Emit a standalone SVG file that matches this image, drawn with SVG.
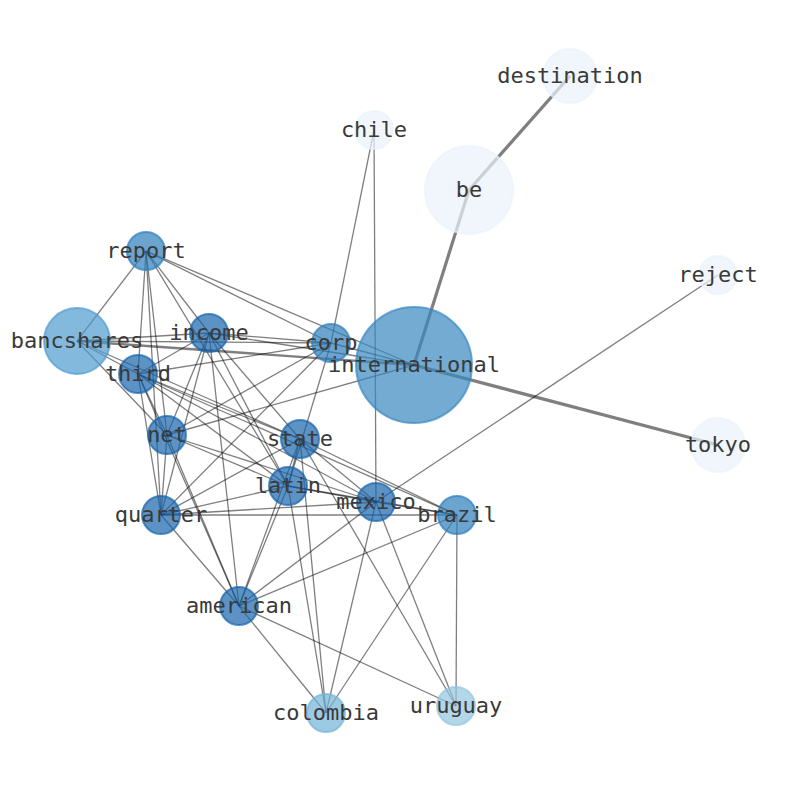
<svg xmlns="http://www.w3.org/2000/svg" width="794" height="790" viewBox="0 0 794 790">
<style>
.e{stroke:#000;stroke-opacity:0.5;stroke-width:1.3;fill:none}
.w2{stroke-width:2.4}
.w3{stroke-width:3.2}
.n circle{fill-opacity:0.7;stroke-opacity:0.7;stroke-width:2}
.n text{font-family:"DejaVu Sans Mono","Liberation Mono",monospace;font-size:22px;fill:#3a3a3a;text-anchor:middle}
.c0 circle{fill:#e9f2fb;stroke:#e9f2fb}
.c1 circle{fill:#1764ab;stroke:#1764ab}
.c2 circle{fill:#2e7ebc;stroke:#2e7ebc}
.c3 circle{fill:#3787c0;stroke:#3787c0}
.c4 circle{fill:#4e9bcf;stroke:#4e9bcf}
.c5 circle{fill:#72b4d7;stroke:#72b4d7}
.c6 circle{fill:#93c5e0;stroke:#93c5e0}
</style>
<rect width="794" height="790" fill="#fff"/>
<g id="edges">
<line class="e" x1="146" y1="251" x2="77" y2="341"/>
<line class="e" x1="146" y1="251" x2="138" y2="374"/>
<line class="e" x1="146" y1="251" x2="161" y2="515"/>
<line class="e" x1="146" y1="251" x2="167" y2="435"/>
<line class="e" x1="146" y1="251" x2="288" y2="486"/>
<line class="e" x1="146" y1="251" x2="209" y2="333"/>
<line class="e" x1="146" y1="251" x2="331" y2="343"/>
<line class="e" x1="146" y1="251" x2="414" y2="365"/>
<line class="e" x1="77" y1="341" x2="209" y2="333"/>
<line class="e" x1="77" y1="341" x2="331" y2="343"/>
<line class="e w2" x1="77" y1="341" x2="414" y2="365"/>
<line class="e" x1="77" y1="341" x2="138" y2="374"/>
<line class="e" x1="77" y1="341" x2="167" y2="435"/>
<line class="e" x1="77" y1="341" x2="300" y2="439"/>
<line class="e" x1="209" y1="333" x2="331" y2="343"/>
<line class="e" x1="209" y1="333" x2="414" y2="365"/>
<line class="e" x1="209" y1="333" x2="138" y2="374"/>
<line class="e" x1="209" y1="333" x2="167" y2="435"/>
<line class="e" x1="209" y1="333" x2="161" y2="515"/>
<line class="e" x1="209" y1="333" x2="239" y2="606"/>
<line class="e" x1="209" y1="333" x2="288" y2="486"/>
<line class="e" x1="209" y1="333" x2="300" y2="439"/>
<line class="e" x1="331" y1="343" x2="374" y2="130"/>
<line class="e" x1="331" y1="343" x2="414" y2="365"/>
<line class="e" x1="331" y1="343" x2="138" y2="374"/>
<line class="e" x1="331" y1="343" x2="167" y2="435"/>
<line class="e" x1="331" y1="343" x2="161" y2="515"/>
<line class="e" x1="331" y1="343" x2="288" y2="486"/>
<line class="e w3" x1="414" y1="365" x2="469" y2="190"/>
<line class="e w3" x1="414" y1="365" x2="718" y2="445"/>
<line class="e" x1="414" y1="365" x2="167" y2="435"/>
<line class="e w3" x1="469" y1="190" x2="570" y2="76"/>
<line class="e" x1="374" y1="130" x2="376" y2="502"/>
<line class="e" x1="718" y1="275" x2="376" y2="502"/>
<line class="e" x1="138" y1="374" x2="167" y2="435"/>
<line class="e" x1="138" y1="374" x2="161" y2="515"/>
<line class="e" x1="138" y1="374" x2="239" y2="606"/>
<line class="e" x1="138" y1="374" x2="288" y2="486"/>
<line class="e" x1="138" y1="374" x2="300" y2="439"/>
<line class="e" x1="138" y1="374" x2="376" y2="502"/>
<line class="e" x1="138" y1="374" x2="457" y2="515"/>
<line class="e" x1="167" y1="435" x2="161" y2="515"/>
<line class="e" x1="167" y1="435" x2="239" y2="606"/>
<line class="e" x1="167" y1="435" x2="288" y2="486"/>
<line class="e" x1="167" y1="435" x2="376" y2="502"/>
<line class="e" x1="300" y1="439" x2="288" y2="486"/>
<line class="e" x1="300" y1="439" x2="161" y2="515"/>
<line class="e" x1="300" y1="439" x2="239" y2="606"/>
<line class="e" x1="300" y1="439" x2="376" y2="502"/>
<line class="e" x1="300" y1="439" x2="457" y2="515"/>
<line class="e" x1="300" y1="439" x2="326" y2="713"/>
<line class="e" x1="300" y1="439" x2="456" y2="706"/>
<line class="e" x1="288" y1="486" x2="376" y2="502"/>
<line class="e" x1="288" y1="486" x2="457" y2="515"/>
<line class="e" x1="288" y1="486" x2="161" y2="515"/>
<line class="e" x1="288" y1="486" x2="239" y2="606"/>
<line class="e" x1="288" y1="486" x2="326" y2="713"/>
<line class="e" x1="376" y1="502" x2="457" y2="515"/>
<line class="e" x1="376" y1="502" x2="161" y2="515"/>
<line class="e" x1="376" y1="502" x2="239" y2="606"/>
<line class="e" x1="376" y1="502" x2="326" y2="713"/>
<line class="e" x1="376" y1="502" x2="456" y2="706"/>
<line class="e" x1="457" y1="515" x2="161" y2="515"/>
<line class="e" x1="457" y1="515" x2="239" y2="606"/>
<line class="e" x1="457" y1="515" x2="326" y2="713"/>
<line class="e" x1="457" y1="515" x2="456" y2="706"/>
<line class="e" x1="239" y1="606" x2="326" y2="713"/>
<line class="e" x1="239" y1="606" x2="456" y2="706"/>
<line class="e" x1="239" y1="606" x2="161" y2="515"/>
</g>
<g id="destination" class="n c0"><circle cx="570" cy="76" r="27"/><text x="570" y="83">destination</text></g>
<g id="chile" class="n c0"><circle cx="374" cy="130" r="19"/><text x="374" y="137">chile</text></g>
<g id="be" class="n c0"><circle cx="469" cy="190" r="44"/><text x="469" y="197">be</text></g>
<g id="reject" class="n c0"><circle cx="718" cy="275" r="19"/><text x="718" y="282">reject</text></g>
<g id="tokyo" class="n c0"><circle cx="718" cy="445" r="27"/><text x="718" y="452">tokyo</text></g>
<g id="report" class="n c2"><circle cx="146" cy="251" r="19"/><text x="146" y="258">report</text></g>
<g id="bancshares" class="n c4"><circle cx="77" cy="341" r="33"/><text x="77" y="348">bancshares</text></g>
<g id="income" class="n c1"><circle cx="209" cy="333" r="19"/><text x="209" y="340">income</text></g>
<g id="corp" class="n c2"><circle cx="331" cy="343" r="19"/><text x="331" y="350">corp</text></g>
<g id="international" class="n c3"><circle cx="414" cy="365" r="58"/><text x="414" y="372">international</text></g>
<g id="third" class="n c1"><circle cx="138" cy="374" r="19"/><text x="138" y="381">third</text></g>
<g id="net" class="n c1"><circle cx="167" cy="435" r="19"/><text x="167" y="442">net</text></g>
<g id="state" class="n c1"><circle cx="300" cy="439" r="19"/><text x="300" y="446">state</text></g>
<g id="latin" class="n c1"><circle cx="288" cy="486" r="19"/><text x="288" y="493">latin</text></g>
<g id="mexico" class="n c1"><circle cx="376" cy="502" r="19"/><text x="376" y="509">mexico</text></g>
<g id="brazil" class="n c2"><circle cx="457" cy="515" r="19"/><text x="457" y="522">brazil</text></g>
<g id="quarter" class="n c1"><circle cx="161" cy="515" r="19"/><text x="161" y="522">quarter</text></g>
<g id="american" class="n c1"><circle cx="239" cy="606" r="19"/><text x="239" y="613">american</text></g>
<g id="colombia" class="n c5"><circle cx="326" cy="713" r="19"/><text x="326" y="720">colombia</text></g>
<g id="uruguay" class="n c6"><circle cx="456" cy="706" r="19"/><text x="456" y="713">uruguay</text></g>
</svg>
